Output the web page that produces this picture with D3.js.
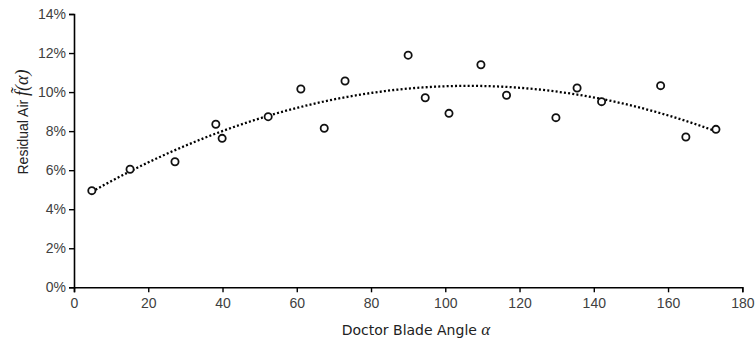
<!DOCTYPE html>
<html>
<head>
<meta charset="utf-8">
<script src="https://cdn.jsdelivr.net/npm/d3@7/dist/d3.min.js"></script>
<style>
  html, body { margin: 0; padding: 0; background: #fff; }
  svg { display: block; }
</style>
</head>
<body>
<svg id="chart" width="755" height="345"></svg>
<script>
// Data
const angles = [4.8, 15.1, 27.2, 38.2, 39.9, 52.3, 61.1, 67.4, 73.0, 90.0, 94.6, 101.0, 109.6, 116.5, 129.8, 135.5, 142.1, 158.0, 164.8, 172.9];
const residualAir = [4.95, 6.05, 6.43, 8.35, 7.63, 8.74, 10.16, 8.15, 10.57, 11.89, 9.71, 8.91, 11.40, 9.84, 8.69, 10.21, 9.51, 10.33, 7.70, 8.09];
const xTicks = [0, 20, 40, 60, 80, 100, 120, 140, 160, 180];
const yTicks = [0, 2, 4, 6, 8, 10, 12, 14];

const svg = d3.select("#chart");
const margin = { left: 74, right: 755 - 742.3, top: 14, bottom: 345 - 287.3 };
const W = 755, H = 345;

const x = d3.scaleLinear().domain([0, 180]).range([margin.left, W - margin.right]);
const y = d3.scaleLinear().domain([0, 14]).range([H - margin.bottom, margin.top]);

// Quadratic least-squares trendline (as in a spreadsheet polynomial trendline)
function polyFit2(xs, ys) {
  const n = xs.length;
  let s = [0,0,0,0,0], t = [0,0,0];
  for (let i = 0; i < n; i++) {
    const xi = xs[i], yi = ys[i];
    let p = 1;
    for (let k = 0; k < 5; k++) { s[k] += p; if (k < 3) t[k] += p * yi; p *= xi; }
  }
  const A = [[s[0], s[1], s[2], t[0]], [s[1], s[2], s[3], t[1]], [s[2], s[3], s[4], t[2]]];
  for (let i = 0; i < 3; i++) {
    for (let j = i + 1; j < 3; j++) {
      const f = A[j][i] / A[i][i];
      for (let k = i; k < 4; k++) A[j][k] -= f * A[i][k];
    }
  }
  const c = [0,0,0];
  for (let i = 2; i >= 0; i--) {
    let v = A[i][3];
    for (let k = i + 1; k < 3; k++) v -= A[i][k] * c[k];
    c[i] = v / A[i][i];
  }
  return c;
}
const coef = polyFit2(angles, residualAir);
const xMin = d3.min(angles), xMax = d3.max(angles);
const trend = d3.range(0, 101).map(i => {
  const xv = xMin + (xMax - xMin) * i / 100;
  return [xv, coef[0] + coef[1] * xv + coef[2] * xv * xv];
});

// Axes
const xAxis = svg.append("g")
  .attr("transform", `translate(0,${y(0)})`)
  .call(d3.axisBottom(x).tickValues(xTicks).tickSize(5).tickSizeOuter(5).tickPadding(6));
const yAxis = svg.append("g")
  .attr("transform", `translate(${x(0)},0)`)
  .call(d3.axisLeft(y).tickValues(yTicks).tickFormat(d => d + "%").tickSize(5).tickSizeOuter(5).tickPadding(3));

[xAxis, yAxis].forEach(g => {
  g.select(".domain").attr("stroke", "#000").attr("stroke-width", 1.6);
  g.selectAll(".tick line").attr("stroke", "#000").attr("stroke-width", 1.4);
  g.selectAll(".tick text")
    .attr("fill", "#404040")
    .style("font-family", "'Liberation Sans', Arial, sans-serif")
    .style("font-size", "14px");
});

// Trendline
svg.append("path")
  .datum(trend)
  .attr("fill", "none")
  .attr("stroke", "#000")
  .attr("stroke-width", 2.3)
  .attr("stroke-dasharray", "2,2.2")
  .attr("d", d3.line().x(d => x(d[0])).y(d => y(d[1])));

// Points
svg.append("g").selectAll("circle")
  .data(angles.map((a, i) => [a, residualAir[i]]))
  .join("circle")
  .attr("cx", d => x(d[0]))
  .attr("cy", d => y(d[1]))
  .attr("r", 3.6)
  .attr("fill", "#fff")
  .attr("stroke", "#111")
  .attr("stroke-width", 1.8);

// X axis title
const xt = svg.append("text")
  .attr("x", 416)
  .attr("y", 335)
  .attr("text-anchor", "middle")
  .attr("fill", "#222")
  .style("font-family", "'DejaVu Sans', Verdana, sans-serif")
  .style("font-size", "14px");
xt.append("tspan").text("Doctor Blade Angle ");
xt.append("tspan").style("font-family", "'Liberation Serif', serif").style("font-style", "italic").style("font-size", "17px").text("α");

// Y axis title
const yt = svg.append("text")
  .attr("transform", "translate(28,122) rotate(-90)")
  .attr("text-anchor", "middle")
  .attr("fill", "#222")
  .style("font-family", "'Liberation Sans', Arial, sans-serif")
  .style("font-size", "14px");
yt.append("tspan").text("Residual Air ");
yt.append("tspan").style("font-family", "'Liberation Serif', serif").style("font-style", "italic").style("font-size", "18px").text("f\u0303(\u03B1)");
</script>
</body>
</html>
